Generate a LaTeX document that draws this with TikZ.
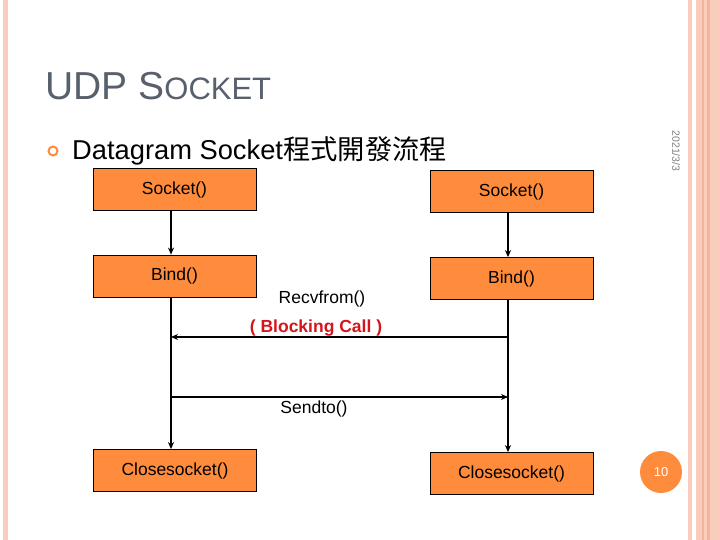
\documentclass[tikz,border=0pt]{standalone}
\usepackage{fontspec}
\setmainfont{Liberation Sans}
\newfontfamily\cjk{Noto Sans CJK TC}
\usepackage{tikz}
\usetikzlibrary{arrows.meta}

\definecolor{boxorange}{HTML}{FF8C3C}
\definecolor{stripepink}{HTML}{F9CCBB}
\definecolor{stripedark}{HTML}{F3B49C}
\definecolor{titlegray}{HTML}{58606C}
\definecolor{callred}{HTML}{D2161C}

\tikzset{
  callbox/.style={draw=black, line width=0.8pt, fill=boxorange, minimum width=163pt, minimum height=42pt, inner sep=0pt, font=\fontsize{17.5}{17.5}\selectfont},
  msg/.style={font=\fontsize{17.5}{17.5}\selectfont, inner sep=0pt}
}

\begin{document}
\begin{tikzpicture}[x=1pt, y=-1pt]
                \useasboundingbox (0,0) rectangle (720,540);
                \fill[white] (0,0) rectangle (720,540);
                % slide border
                \fill[stripepink] (3,0) rectangle (8,540);
                \fill[stripepink] (688,0) rectangle (692,540);
                \fill[stripepink] (696,0) rectangle (720,540);
                \fill[stripedark] (702,0) rectangle (704,540);
                \fill[stripedark] (707,0) rectangle (710,540);
                % title and bullet
                \node[anchor=base west, inner sep=0pt, text=titlegray] (title) at (45,100) {\fontsize{39}{39}\selectfont UDP S{\fontsize{31}{31}\selectfont OCKET}};
                \draw[boxorange, line width=2pt] (53,151) circle [radius=4.5];
                \node[anchor=base west, inner sep=0pt] (bullet) at (72,160) {\fontsize{27.3}{27.3}\selectfont Datagram Socket{\cjk 程式開發流程}};
                \node[rotate=-90, text=gray, inner sep=0pt] (date) at (676,151) {\fontsize{10.5}{10.5}\selectfont 2021/3/3};
                \node[circle, fill=boxorange, text=white, minimum size=42pt, inner sep=0pt] (page) at (661,472) {\fontsize{13}{13}\selectfont 10};
                \begin{scope}[every node/.style={callbox}]
                        \node (Sl) at (174.5,189.5) {Socket()};
                        \node (Bl) at (174.5,276) {Bind()};
                        \node (Cl) at (175,470.5) {Closesocket()};
                        \node (Sr) at (511.5,191.5) {Socket()};
                        \node (Br) at (511.5,278.5) {Bind()};
                        \node (Cr) at (511.5,473.5) {Closesocket()};
                \end{scope}
                \coordinate (rR) at (508,337);
                \coordinate (rL) at (171,337);
                \coordinate (sL) at (171,397);
                \coordinate (sR) at (508,397);
                \node[msg] (recv) at (322,299) {Recvfrom()};
                \node[msg, text=callred] (block) at (316,328) {\bfseries ( Blocking Call )};
                \node[msg] (send) at (314,409) {Sendto()};
                \begin{scope}[every path/.style={line width=1.5pt, -{Stealth[length=7pt, width=6pt]}}]
                        \path ([xshift=-3.5pt]Sl.south) edge ([xshift=-3.5pt]Bl.north);
                        \path ([xshift=-3.5pt]Bl.south) edge ([xshift=-4pt]Cl.north);
                        \path ([xshift=-3.5pt]Sr.south) edge ([xshift=-3.5pt]Br.north);
                        \path ([xshift=-3.5pt]Br.south) edge ([xshift=-3.5pt]Cr.north);
                        \path (rR) edge (rL);
                        \path (sL) edge (sR);
                \end{scope}
        \end{tikzpicture}
\end{document}
